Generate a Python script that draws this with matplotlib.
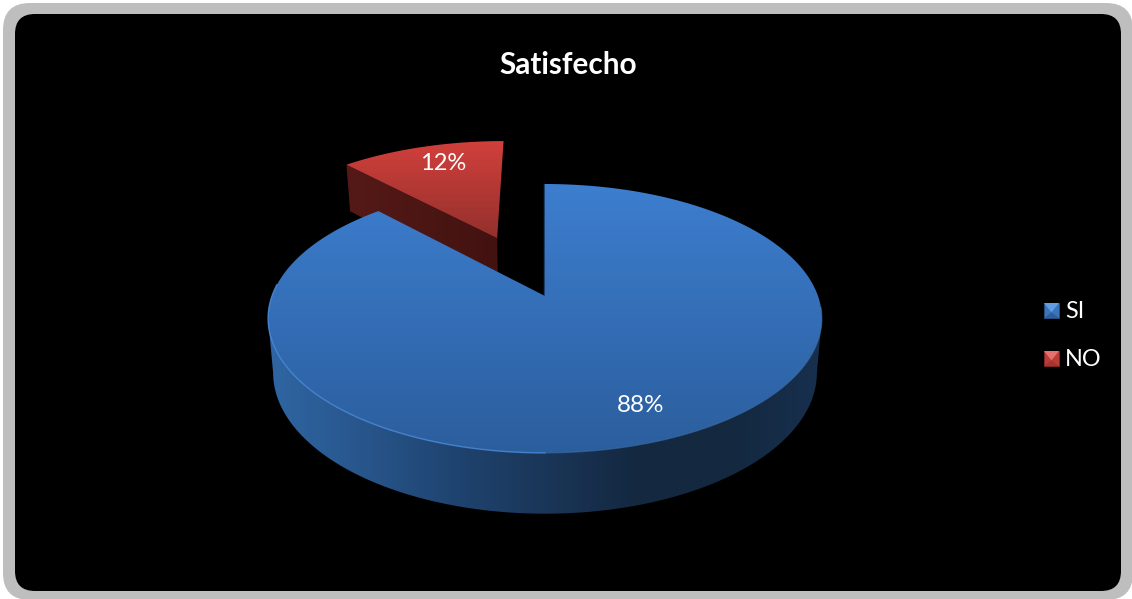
import numpy as np
import matplotlib
matplotlib.use('Agg')
import matplotlib.pyplot as plt
from matplotlib.colors import LinearSegmentedColormap
from matplotlib.patches import FancyBboxPatch, Polygon

categories = ['SI', 'NO']
values = [88, 12]
title = 'Satisfecho'

W, H = 1132, 599
CX, CY = 545, 296       # pie centre on the top face
RX, RY = 273, 130.7     # disc radii before perspective
PERSP = 0.167
DEPTH = 53              # thickness of the disc
BOTTOM_SCALE = 0.982
EXPLODE = 0.514

plt.rcParams['font.family'] = ['Lato', 'DejaVu Sans']


def project(u, v, lower=False):
    # circle coords -> pixels, with a little perspective
    d = 1 + PERSP * v
    s = BOTTOM_SCALE if lower else 1.0
    x = CX + s * RX * u / d
    y = CY - s * RY * v / d
    if lower:
        y = y + DEPTH / d
    return x, y


def wedge_outline(a0, a1, offset=(0, 0), lower=False):
    # angles are clockwise from 12 o'clock, in degrees
    t = np.radians(np.linspace(a0, a1, 200))
    u = np.concatenate([[0], np.sin(t), [0]]) + offset[0]
    v = np.concatenate([[0], np.cos(t), [0]]) + offset[1]
    x, y = project(u, v, lower)
    return np.column_stack([x, y])


def gradient_fill(ax, pts, stops, horizontal=False, span=None, zorder=2):
    cmap = LinearSegmentedColormap.from_list('g', stops)
    poly = Polygon(pts, closed=True, facecolor='none', edgecolor='none')
    ax.add_patch(poly)
    x0, x1 = pts[:, 0].min(), pts[:, 0].max()
    y0, y1 = pts[:, 1].min(), pts[:, 1].max()
    if span is not None:
        if horizontal:
            x0, x1 = span
        else:
            y0, y1 = span
    ramp = np.linspace(0, 1, 256)
    ramp = ramp.reshape(1, -1) if horizontal else ramp.reshape(-1, 1)
    im = ax.imshow(ramp, cmap=cmap, extent=(x0, x1, y1, y0), aspect='auto',
                   origin='upper', zorder=zorder, interpolation='bilinear')
    im.set_clip_path(poly)
    poly.set_zorder(zorder)


def side_band(a0, a1, offset=(0, 0)):
    # outer wall between two angles
    t = np.radians(np.linspace(a0, a1, 300))
    u = np.sin(t) + offset[0]
    v = np.cos(t) + offset[1]
    top = np.column_stack(project(u, v))
    bottom = np.column_stack(project(u, v, lower=True))
    return np.vstack([top, bottom[::-1]])


def bevel_marker(ax, x, y, size, light, base, dark, edge):
    c = (x + size / 2, y + size * 0.62)
    tl, tr = (x, y), (x + size, y)
    bl, br = (x, y + size), (x + size, y + size)
    ax.add_patch(Polygon([tl, tr, br, bl], facecolor=base, edgecolor=edge, lw=0.5, zorder=5))
    ax.add_patch(Polygon([tl, tr, c], facecolor=light, edgecolor='none', zorder=6))
    ax.add_patch(Polygon([bl, br, c], facecolor=dark, edgecolor='none', zorder=6))


fig = plt.figure(figsize=(W / 100, H / 100), dpi=100, facecolor='white')
ax = fig.add_axes([0, 0, 1, 1])
ax.set_xlim(0, W)
ax.set_ylim(H, 0)
ax.axis('off')

# gray frame and black chart area
ax.add_patch(FancyBboxPatch((3 + 27, 3 + 27), W - 2 - 54, H - 2 - 54,
                            boxstyle='round,pad=27,rounding_size=27',
                            facecolor='#bebebe', edgecolor='none', zorder=0))
ax.add_patch(FancyBboxPatch((15 + 20, 14 + 20), 1106 - 40, 577 - 40,
                            boxstyle='round,pad=20,rounding_size=20',
                            facecolor='black', edgecolor='none', zorder=1))

share = np.array(values, dtype=float) / sum(values) * 360
si_end = share[0]

# NO slice sits before 12 o'clock and is pulled out along its bisector
no_start, no_end = si_end, 360
mid = np.radians((no_start + no_end) / 2)
off = (EXPLODE * np.sin(mid), EXPLODE * np.cos(mid))

no_left = np.radians(no_start)
lu = np.array([off[0], off[0] + np.sin(no_left)])
lv = np.array([off[1], off[1] + np.cos(no_left)])
top_pts = np.column_stack(project(lu, lv))
bot_pts = np.column_stack(project(lu, lv, lower=True))
no_wall = np.vstack([top_pts, bot_pts[::-1]])
gradient_fill(ax, no_wall, ['#551a17', '#421210'], horizontal=True, zorder=2)

no_top = wedge_outline(no_start, no_end, off)
gradient_fill(ax, no_top, ['#d2403c', '#93302c'], zorder=3)

# SI slice: wall between the two silhouette angles, top face over it
tangent = np.degrees(np.arccos(-PERSP))
gradient_fill(ax, side_band(tangent, 360 - tangent),
              ['#2f66a3', '#28568c', '#1f4470', '#1a3658', '#142840', '#14283f', '#17304f'],
              horizontal=True, zorder=3)

si_top = wedge_outline(0, si_end)
gradient_fill(ax, si_top, ['#3d7ecf', '#2b5e9d'], zorder=4)

# thin light rim along the front edge of the disc, fading to the right
t = np.radians(np.linspace(180, 275, 200))
rx, ry = project(np.sin(t), np.cos(t))
ax.plot(rx, ry, color='#4a88d6', lw=1.0, alpha=0.9, zorder=4.5)
t = np.radians(np.linspace(95, 180, 200))
rx, ry = project(np.sin(t), np.cos(t))
ax.plot(rx, ry, color='#3f74b4', lw=0.8, alpha=0.6, zorder=4.5)

# dark sliver on the cut at 12 o'clock
cut_x, cut_y = project(np.array([0, 0]), np.array([1, 0]))
ax.plot(cut_x - 1, cut_y, color='#1d3f6b', lw=1.0, zorder=3.5)

ax.text(568, 65, title, color='white', fontsize=21.4, fontweight='bold',
        ha='center', va='center', zorder=7)
ax.text(641, 405, f'{values[0]}%', color='white', fontsize=17.5, ha='center', va='center', zorder=7)
ax.text(443, 164, f'{values[1]}%', color='white', fontsize=17, ha='center', va='center', zorder=7)

bevel_marker(ax, 1044, 303, 15, '#629ce2', '#3a74bb', '#2c5f9e', '#2a568c')
bevel_marker(ax, 1044, 351, 15, '#e4716d', '#bb3b37', '#a53431', '#8c2a28')
ax.text(1065, 312, categories[0], color='white', fontsize=16.8, ha='left', va='center', zorder=7)
ax.text(1065, 360, categories[1], color='white', fontsize=16.8, ha='left', va='center', zorder=7)

ax.set_xlim(0, W)
ax.set_ylim(H, 0)
fig.savefig('out.png', dpi=100, facecolor='white')
